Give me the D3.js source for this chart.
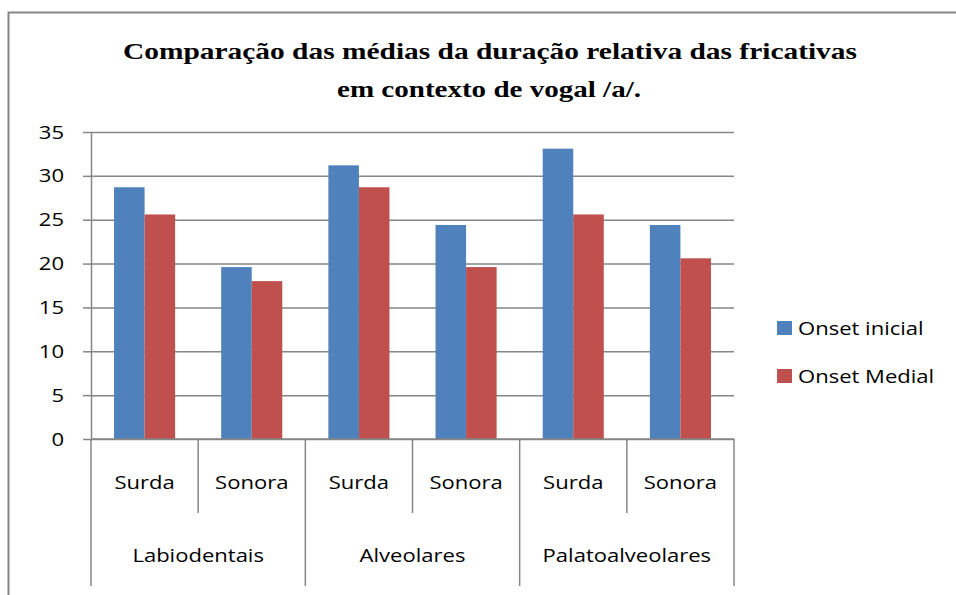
<!DOCTYPE html>
<html>
<head>
<meta charset="utf-8">
<script src="https://cdn.jsdelivr.net/npm/d3@7"></script>
<style>
  body { margin: 0; background: #fff; }
  svg { display: block; }
</style>
</head>
<body>
<svg></svg>
<script>
// data
var groups = ['Labiodentais', 'Alveolares', 'Palatoalveolares'];
var voicing = ['Surda', 'Sonora'];
var seriesNames = ['Onset inicial', 'Onset Medial'];
var onsetInicial = [28.7, 19.6, 31.2, 24.4, 33.1, 24.4];
var onsetMedial = [25.6, 18.0, 28.7, 19.6, 25.6, 20.6];
var yTicks = [0, 5, 10, 15, 20, 25, 30, 35];

var colors = ['#4F81BD', '#C0504D'];
var axisColor = '#868686';
var labelFont = "'Open Sans', 'Noto Sans', sans-serif";
var stretch = 1.16; // the source picture is a bit wider than tall

var svgWidth = 956;
var svgHeight = 595;
var svg = d3.select('svg')
    .attr('width', svgWidth)
    .attr('height', svgHeight);

// chart frame (cut by the page edge on right and bottom)
svg.append('path')
    .attr('d', 'M8.5,' + svgHeight + 'V12.5H' + svgWidth)
    .attr('fill', 'none')
    .attr('stroke', axisColor)
    .attr('stroke-width', 2);

// title
var title = svg.append('text')
    .attr('text-anchor', 'middle')
    .style('font-family', "'Liberation Serif', 'Times New Roman', serif")
    .style('font-weight', 'bold')
    .style('font-size', '24px')
    .attr('fill', '#000');
title.append('tspan').attr('x', 490).attr('y', 59)
    .attr('textLength', 734).attr('lengthAdjust', 'spacingAndGlyphs')
    .text('Comparação das médias da duração relativa das fricativas');
title.append('tspan').attr('x', 489).attr('y', 97)
    .attr('textLength', 304).attr('lengthAdjust', 'spacingAndGlyphs')
    .text('em contexto de vogal /a/.');

// plot area
var plotLeft = 91, plotRight = 734, plotTop = 132, plotBottom = 439;

var cats = [];
groups.forEach(function(g) {
    voicing.forEach(function(v) { cats.push(g + '|' + v); });
});
var rows = cats.map(function(c, i) {
    return { key: c, values: [onsetInicial[i], onsetMedial[i]] };
});

var x = d3.scaleBand()
    .domain(cats)
    .range([plotLeft, plotRight])
    .paddingInner(0.43)
    .paddingOuter(0.215);
var xSeries = d3.scaleBand()
    .domain(seriesNames)
    .range([0, x.bandwidth()]);
var y = d3.scaleLinear()
    .domain([0, 35])
    .range([plotBottom, plotTop]);

// gridlines
var grid = svg.append('g')
    .attr('transform', 'translate(' + plotLeft + ',0)')
    .call(d3.axisLeft(y).tickValues(yTicks).tickSize(-(plotRight - plotLeft)).tickFormat(''));
grid.select('.domain').remove();
grid.selectAll('line').attr('stroke', axisColor).attr('stroke-width', 1.5);

// y axis with ticks and labels
var yAxis = svg.append('g')
    .attr('transform', 'translate(' + plotLeft + ',0)')
    .call(d3.axisLeft(y).tickValues(yTicks).tickSize(8).tickSizeOuter(0));
yAxis.select('.domain').attr('stroke', axisColor).attr('stroke-width', 1.5);
yAxis.selectAll('line').attr('stroke', axisColor).attr('stroke-width', 1.5);
yAxis.selectAll('text')
    .attr('x', null)
    .attr('transform', 'translate(-27,0) scale(' + stretch + ',1)')
    .style('font-family', labelFont)
    .style('font-size', '19px')
    .attr('fill', '#000');

// bars
var catG = svg.selectAll('.cat')
    .data(rows)
    .enter()
    .append('g')
    .attr('class', 'cat')
    .attr('transform', function(d) { return 'translate(' + x(d.key) + ',0)'; });
catG.selectAll('rect')
    .data(function(d) { return d.values.map(function(v, i) { return { s: seriesNames[i], v: v, i: i }; }); })
    .enter()
    .append('rect')
    .attr('x', function(d) { return xSeries(d.s); })
    .attr('width', xSeries.bandwidth())
    .attr('y', function(d) { return y(d.v); })
    .attr('height', function(d) { return plotBottom - y(d.v); })
    .attr('fill', function(d) { return colors[d.i]; });

// bottom axis line
svg.append('line')
    .attr('x1', plotLeft).attr('x2', plotRight)
    .attr('y1', plotBottom).attr('y2', plotBottom)
    .attr('stroke', axisColor).attr('stroke-width', 1.5);

// category separators: short ones between Surda/Sonora, long ones between groups
var step = x.step();
svg.selectAll('.sep')
    .data(d3.range(cats.length + 1))
    .enter()
    .append('line')
    .attr('class', 'sep')
    .attr('x1', function(i) { return plotLeft + i * step; })
    .attr('x2', function(i) { return plotLeft + i * step; })
    .attr('y1', plotBottom)
    .attr('y2', function(i) { return i % 2 === 0 ? 586 : 513; })
    .attr('stroke', axisColor)
    .attr('stroke-width', 1.5);

// sub-category labels
svg.selectAll('.subLabel')
    .data(cats)
    .enter()
    .append('text')
    .attr('class', 'subLabel')
    .attr('transform', function(d) {
        return 'translate(' + (x(d) + x.bandwidth() / 2) + ',489) scale(' + stretch + ',1)';
    })
    .attr('text-anchor', 'middle')
    .style('font-family', labelFont)
    .style('font-size', '19px')
    .text(function(d) { return d.split('|')[1]; });

// group labels
svg.selectAll('.groupLabel')
    .data(groups)
    .enter()
    .append('text')
    .attr('class', 'groupLabel')
    .attr('transform', function(d, i) {
        return 'translate(' + (plotLeft + (2 * i + 1) * step) + ',562) scale(' + stretch + ',1)';
    })
    .attr('text-anchor', 'middle')
    .style('font-family', labelFont)
    .style('font-size', '19px')
    .text(function(d) { return d; });

// legend
var legend = svg.selectAll('.legend')
    .data(seriesNames)
    .enter()
    .append('g')
    .attr('class', 'legend')
    .attr('transform', function(d, i) { return 'translate(777,' + (321 + i * 48) + ')'; });
legend.append('rect')
    .attr('width', 15)
    .attr('height', 14)
    .attr('fill', function(d, i) { return colors[i]; });
legend.append('text')
    .attr('transform', 'translate(21,14) scale(' + stretch + ',1)')
    .style('font-family', labelFont)
    .style('font-size', '19px')
    .text(function(d) { return d; });
</script>
</body>
</html>
